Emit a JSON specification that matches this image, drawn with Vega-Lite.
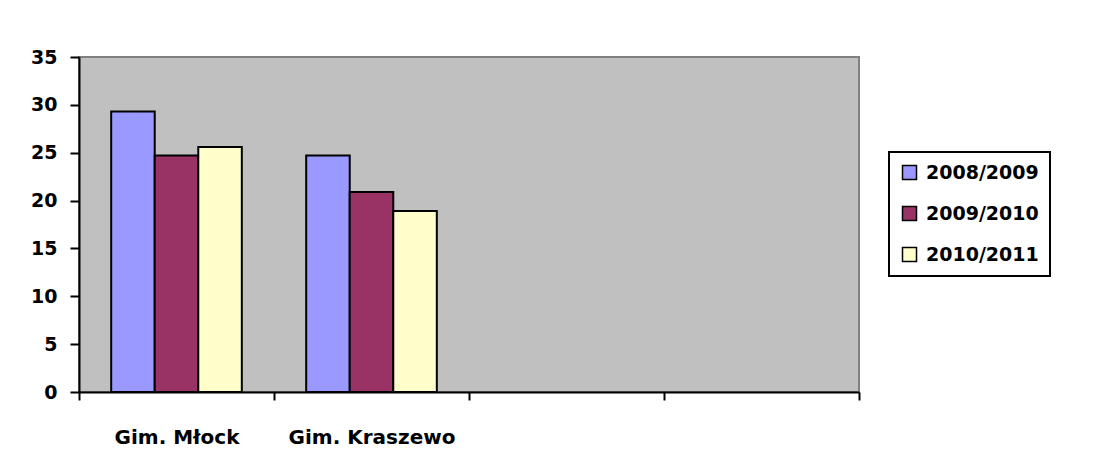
{
  "$schema": "https://vega.github.io/schema/vega-lite/v6.json",
  "width": 780,
  "height": 335,
  "autosize": {"type": "none"},
  "padding": {"left": 79, "top": 57, "right": 241, "bottom": 61},
  "background": "white",
  "config": {
    "view": {"fill": "#C0C0C0", "stroke": "#808080", "strokeWidth": 2},
    "font": "DejaVu Sans"
  },
  "data": {
    "values": [
      {"school": "Gim. Młock", "year": "2008/2009", "value": 29.3},
      {"school": "Gim. Młock", "year": "2009/2010", "value": 24.7},
      {"school": "Gim. Młock", "year": "2010/2011", "value": 25.6},
      {"school": "Gim. Kraszewo", "year": "2008/2009", "value": 24.7},
      {"school": "Gim. Kraszewo", "year": "2009/2010", "value": 20.9},
      {"school": "Gim. Kraszewo", "year": "2010/2011", "value": 18.9}
    ]
  },
  "mark": {"type": "bar", "stroke": "black", "strokeWidth": 2},
  "encoding": {
    "x": {
      "field": "school",
      "type": "nominal",
      "title": null,
      "scale": {
        "domain": ["Gim. Młock", "Gim. Kraszewo", "c3", "c4"],
        "paddingInner": 0,
        "paddingOuter": 0
      },
      "axis": {
        "labelAngle": 0,
        "labelExpr": "datum.value == 'c3' || datum.value == 'c4' ? '' : datum.value",
        "tickBand": "extent",
        "domainColor": "black",
        "domainWidth": 2,
        "tickColor": "black",
        "tickWidth": 2,
        "tickSize": 8,
        "labelFont": "DejaVu Sans",
        "labelFontWeight": "bold",
        "labelFontSize": 20,
        "labelColor": "black",
        "labelPadding": 27,
        "grid": false
      }
    },
    "xOffset": {
      "field": "year",
      "type": "nominal",
      "scale": {"paddingInner": 0, "paddingOuter": 0.739}
    },
    "y": {
      "field": "value",
      "type": "quantitative",
      "title": null,
      "scale": {"domain": [0, 35], "nice": false},
      "axis": {
        "values": [0, 5, 10, 15, 20, 25, 30, 35],
        "grid": false,
        "domainColor": "black",
        "domainWidth": 2,
        "tickColor": "black",
        "tickWidth": 2,
        "tickSize": 9,
        "labelFont": "DejaVu Sans",
        "labelFontWeight": "bold",
        "labelFontSize": 19,
        "labelColor": "black",
        "labelPadding": 13
      }
    },
    "color": {
      "field": "year",
      "type": "nominal",
      "scale": {
        "domain": ["2008/2009", "2009/2010", "2010/2011"],
        "range": ["#9999FF", "#993366", "#FFFFCC"]
      },
      "legend": {
        "title": null,
        "orient": "none",
        "legendX": 810,
        "legendY": 95,
        "fillColor": "white",
        "strokeColor": "black",
        "padding": 11,
        "symbolType": "square",
        "symbolSize": 196,
        "symbolStrokeColor": "black",
        "symbolStrokeWidth": 1.5,
        "symbolOpacity": 1,
        "labelFont": "DejaVu Sans",
        "labelFontWeight": "bold",
        "labelFontSize": 19,
        "labelColor": "black",
        "labelOffset": 7,
        "rowPadding": 20,
        "encode": {"legend": {"update": {"strokeWidth": {"value": 2}}}}
      }
    }
  }
}
